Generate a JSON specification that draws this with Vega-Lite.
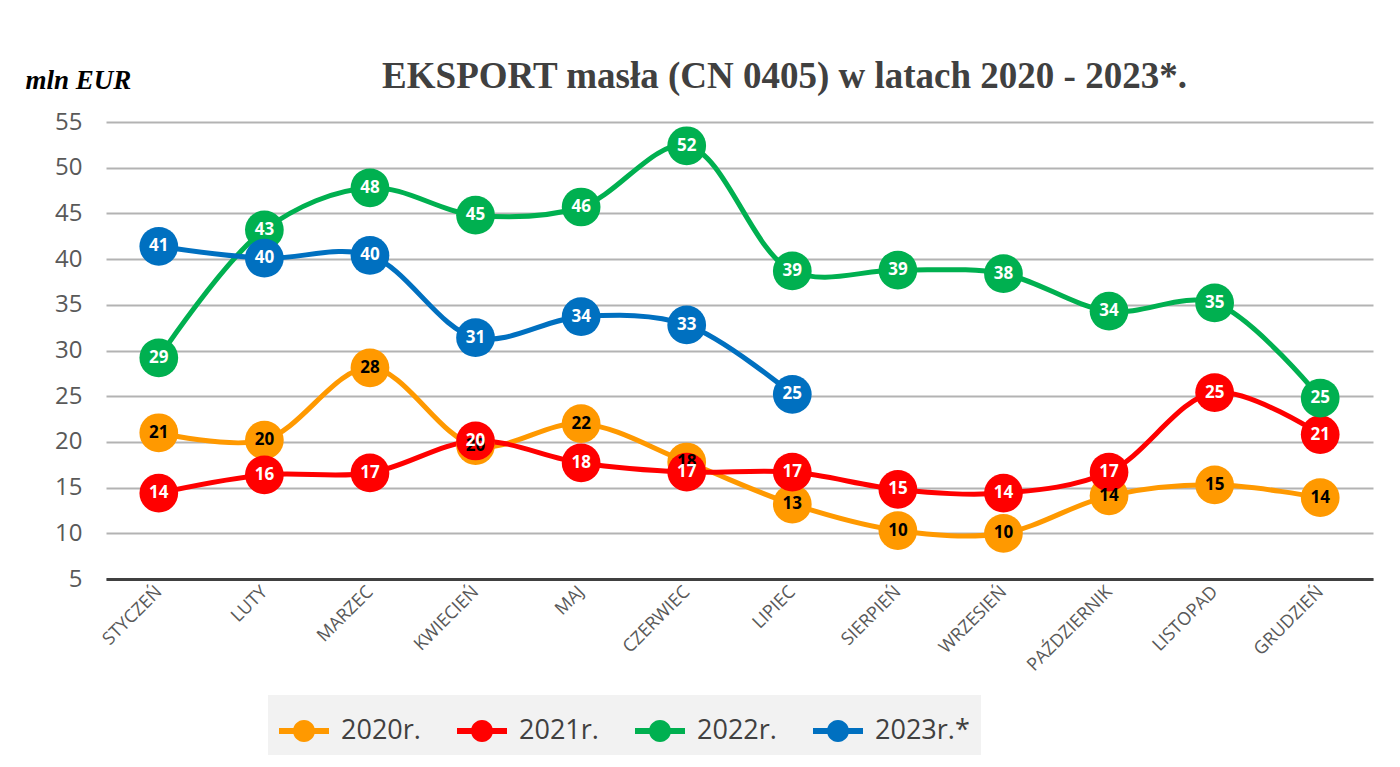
{
  "$schema": "https://vega.github.io/schema/vega-lite/v6.json",
  "width": 1267,
  "height": 457,
  "autosize": {"type": "none"},
  "padding": {"left": 106, "top": 122, "right": 27, "bottom": 188},
  "background": "white",
  "title": {
    "text": "EKSPORT masła (CN 0405) w latach 2020 - 2023*.",
    "font": "Liberation Serif",
    "fontSize": 37,
    "fontWeight": "bold",
    "color": "#404040",
    "anchor": "middle",
    "dx": 45,
    "dy": 60,
    "offset": 30
  },
  "data": {
    "values": [
      {"month": "STYCZEŃ", "year": "2020r.", "value": 21.0},
      {"month": "LUTY", "year": "2020r.", "value": 20.2},
      {"month": "MARZEC", "year": "2020r.", "value": 28.1},
      {"month": "KWIECIEŃ", "year": "2020r.", "value": 19.6},
      {"month": "MAJ", "year": "2020r.", "value": 22.0},
      {"month": "CZERWIEC", "year": "2020r.", "value": 17.8},
      {"month": "LIPIEC", "year": "2020r.", "value": 13.2},
      {"month": "SIERPIEŃ", "year": "2020r.", "value": 10.3},
      {"month": "WRZESIEŃ", "year": "2020r.", "value": 10.0},
      {"month": "PAŹDZIERNIK", "year": "2020r.", "value": 14.1},
      {"month": "LISTOPAD", "year": "2020r.", "value": 15.3},
      {"month": "GRUDZIEŃ", "year": "2020r.", "value": 13.9},
      {"month": "STYCZEŃ", "year": "2021r.", "value": 14.4},
      {"month": "LUTY", "year": "2021r.", "value": 16.4},
      {"month": "MARZEC", "year": "2021r.", "value": 16.6},
      {"month": "KWIECIEŃ", "year": "2021r.", "value": 20.1},
      {"month": "MAJ", "year": "2021r.", "value": 17.7},
      {"month": "CZERWIEC", "year": "2021r.", "value": 16.7},
      {"month": "LIPIEC", "year": "2021r.", "value": 16.7},
      {"month": "SIERPIEŃ", "year": "2021r.", "value": 14.8},
      {"month": "WRZESIEŃ", "year": "2021r.", "value": 14.4},
      {"month": "PAŹDZIERNIK", "year": "2021r.", "value": 16.7},
      {"month": "LISTOPAD", "year": "2021r.", "value": 25.4},
      {"month": "GRUDZIEŃ", "year": "2021r.", "value": 20.8},
      {"month": "STYCZEŃ", "year": "2022r.", "value": 29.2},
      {"month": "LUTY", "year": "2022r.", "value": 43.2},
      {"month": "MARZEC", "year": "2022r.", "value": 47.8},
      {"month": "KWIECIEŃ", "year": "2022r.", "value": 44.8},
      {"month": "MAJ", "year": "2022r.", "value": 45.7},
      {"month": "CZERWIEC", "year": "2022r.", "value": 52.4},
      {"month": "LIPIEC", "year": "2022r.", "value": 38.7},
      {"month": "SIERPIEŃ", "year": "2022r.", "value": 38.8},
      {"month": "WRZESIEŃ", "year": "2022r.", "value": 38.4},
      {"month": "PAŹDZIERNIK", "year": "2022r.", "value": 34.3},
      {"month": "LISTOPAD", "year": "2022r.", "value": 35.2},
      {"month": "GRUDZIEŃ", "year": "2022r.", "value": 24.8},
      {"month": "STYCZEŃ", "year": "2023r.*", "value": 41.4},
      {"month": "LUTY", "year": "2023r.*", "value": 40.1},
      {"month": "MARZEC", "year": "2023r.*", "value": 40.4},
      {"month": "KWIECIEŃ", "year": "2023r.*", "value": 31.4},
      {"month": "MAJ", "year": "2023r.*", "value": 33.7},
      {"month": "CZERWIEC", "year": "2023r.*", "value": 32.8},
      {"month": "LIPIEC", "year": "2023r.*", "value": 25.2}
    ]
  },
  "encoding": {
    "x": {
      "field": "month",
      "type": "nominal",
      "sort": ["STYCZEŃ", "LUTY", "MARZEC", "KWIECIEŃ", "MAJ", "CZERWIEC", "LIPIEC", "SIERPIEŃ", "WRZESIEŃ", "PAŹDZIERNIK", "LISTOPAD", "GRUDZIEŃ"],
      "scale": {"type": "point", "padding": 0.5},
      "axis": {
        "title": null,
        "labelAngle": -45,
        "labelAlign": "right",
        "labelBaseline": "middle",
        "labelFont": "Open Sans",
        "labelFontSize": 18,
        "labelColor": "#595959",
        "labelPadding": 10,
        "ticks": false,
        "domainColor": "#404040",
        "domainWidth": 3,
        "grid": false
      }
    },
    "y": {
      "field": "value",
      "type": "quantitative",
      "scale": {"domain": [5, 55], "nice": false, "zero": false},
      "axis": {
        "title": "mln EUR",
        "titleAngle": 0,
        "titleX": -81,
        "titleY": -34,
        "titleAlign": "left",
        "titleBaseline": "alphabetic",
        "titleFont": "Liberation Serif",
        "titleFontSize": 27,
        "titleFontWeight": "bold",
        "titleFontStyle": "italic",
        "titleColor": "#000000",
        "values": [5, 10, 15, 20, 25, 30, 35, 40, 45, 50, 55],
        "labelFont": "Open Sans",
        "labelFontSize": 24,
        "labelColor": "#595959",
        "labelPadding": 24,
        "ticks": false,
        "domain": false,
        "gridColor": "#b3b3b3",
        "gridWidth": 2
      }
    }
  },
  "layer": [
    {
      "mark": {"type": "line", "interpolate": "catmull-rom", "strokeWidth": 5},
      "encoding": {
        "color": {
          "field": "year",
          "type": "nominal",
          "scale": {"domain": ["2020r.", "2021r.", "2022r.", "2023r.*"], "range": ["#ff9900", "#ff0000", "#00b050", "#0070c0"]},
          "legend": {
            "title": null,
            "orient": "none",
            "legendX": 162,
            "legendY": 573,
            "direction": "horizontal",
            "fillColor": "#f2f2f2",
            "padding": 11,
            "symbolType": "M-1,-0.12 L1,-0.12 L1,0.12 L-1,0.12 Z M0.44,0 A0.44,0.44 0 1,1 -0.44,0 A0.44,0.44 0 1,1 0.44,0 Z",
            "symbolSize": 2500,
            "symbolStrokeWidth": 0,
            "labelFont": "Open Sans",
            "labelFontSize": 27,
            "labelColor": "#404040",
            "labelOffset": 12,
            "columnPadding": 36
          }
        },
        "detail": {"field": "year"}
      }
    },
    {
      "mark": {"type": "point", "filled": true, "shape": "circle", "size": 1500, "opacity": 1},
      "encoding": {
        "color": {"field": "year", "type": "nominal", "legend": null}
      }
    },
    {
      "mark": {"type": "text", "font": "Open Sans", "fontSize": 17, "fontWeight": "bold", "baseline": "middle", "align": "center"},
      "encoding": {
        "text": {"field": "value", "type": "quantitative", "format": ".0f"},
        "color": {"condition": {"test": "datum.year === '2020r.'", "value": "#000000"}, "value": "#ffffff"}
      }
    }
  ],
  "config": {
    "view": {"stroke": null}
  }
}
